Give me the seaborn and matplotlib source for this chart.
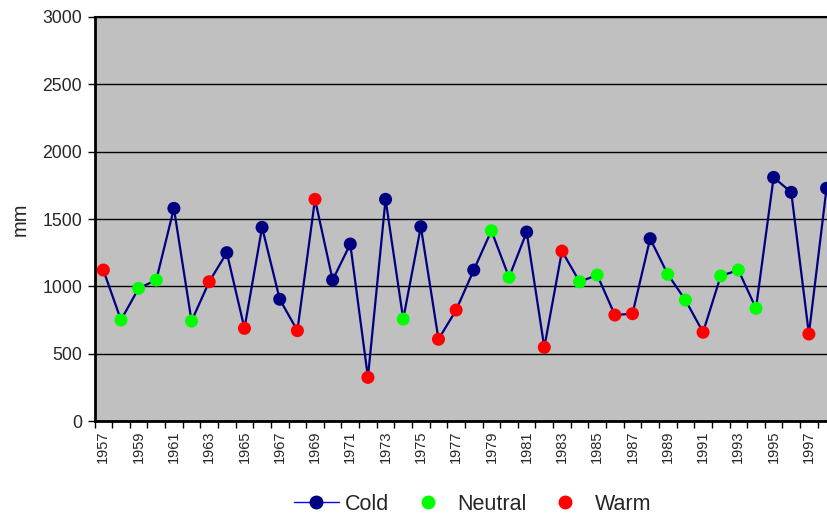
import matplotlib
matplotlib.use("Agg")
import matplotlib.pyplot as plt
from matplotlib.lines import Line2D
import seaborn as sns
import pandas as pd

years = list(range(1957, 1999))
rainfall_mm = [1121, 750, 985, 1047, 1579, 742, 1034, 1250, 688, 1438,
               904, 671, 1646, 1047, 1314, 324, 1646, 757, 1443, 607,
               824, 1121, 1413, 1067, 1403, 547, 1262, 1034, 1084, 787,
               797, 1354, 1089, 898, 659, 1077, 1121, 837, 1809, 1698,
               646, 1728]
phase = ["Warm", "Neutral", "Neutral", "Neutral", "Cold", "Neutral", "Warm", "Cold", "Warm", "Cold",
         "Cold", "Warm", "Warm", "Cold", "Cold", "Warm", "Cold", "Neutral", "Cold", "Warm",
         "Warm", "Cold", "Neutral", "Neutral", "Cold", "Warm", "Warm", "Neutral", "Neutral", "Warm",
         "Warm", "Cold", "Neutral", "Neutral", "Warm", "Neutral", "Neutral", "Neutral", "Cold", "Cold",
         "Warm", "Cold"]
phase_order = ["Cold", "Neutral", "Warm"]
phase_colors = {"Cold": "#000080", "Neutral": "#00FF00", "Warm": "#FF0000"}

df = pd.DataFrame({"pos": range(len(years)), "year": years,
                   "mm": rainfall_mm, "phase": phase})

sns.set_style("white")
plt.rcParams["font.family"] = ["Liberation Sans", "DejaVu Sans"]

fig = plt.figure(figsize=(8.27, 5.15), dpi=100)
ax = fig.add_axes([0.1143, 0.1825, 0.8958, 0.7845])
ax.set_facecolor("#C0C0C0")

sns.lineplot(data=df, x="pos", y="mm", color="#000080", linewidth=1.6,
             ax=ax, zorder=2, legend=False)
sns.scatterplot(data=df, x="pos", y="mm", hue="phase", hue_order=phase_order,
                palette=phase_colors, s=88, edgecolor="none", ax=ax,
                zorder=3, legend=False)

n = len(years)
ax.set_xlim(-0.5, n - 0.5)
ax.set_ylim(0, 3000)
ax.set_yticks(range(0, 3001, 500))
ax.yaxis.grid(True, color="black", linewidth=1.0)
ax.xaxis.grid(False)
ax.set_axisbelow(True)

# category boundaries carry the tick marks, every other year carries a label
ax.set_xticks([i - 0.5 for i in range(n + 1)])
ax.set_xticklabels([])
ax.set_xticks(list(range(0, n, 2)), minor=True)
ax.set_xticklabels([str(years[i]) for i in range(0, n, 2)], minor=True,
                   rotation=90, fontsize=10.5)
ax.tick_params(axis="x", which="major", direction="out", length=5,
               width=1, color="black", bottom=True)
ax.tick_params(axis="x", which="minor", length=0, pad=7, bottom=True)
ax.tick_params(axis="y", direction="out", length=5, width=1, color="black",
               labelsize=12.7, left=True, pad=4)

ax.spines["right"].set_visible(False)
ax.spines["top"].set_color("black")
ax.spines["top"].set_linewidth(1.5)
for side in ("left", "bottom"):
    ax.spines[side].set_color("black")
    ax.spines[side].set_linewidth(2)

ax.set_xlabel("")
ax.set_ylabel("mm", fontsize=14.4, labelpad=9)

handles = [
    Line2D([], [], color="#0000FF", linewidth=1, marker="o", markersize=9,
           markerfacecolor=phase_colors["Cold"], markeredgecolor=phase_colors["Cold"]),
    Line2D([], [], linestyle="none", marker="o", markersize=9,
           markerfacecolor=phase_colors["Neutral"], markeredgecolor=phase_colors["Neutral"]),
    Line2D([], [], linestyle="none", marker="o", markersize=9,
           markerfacecolor=phase_colors["Warm"], markeredgecolor=phase_colors["Warm"]),
]
fig.legend(handles, phase_order, loc="lower center", bbox_to_anchor=(0.571, -0.037),
           ncol=3, frameon=False, fontsize=15.5, handlelength=2.1,
           handletextpad=0.3, columnspacing=0.75)

fig.savefig("out.png", dpi=100)
